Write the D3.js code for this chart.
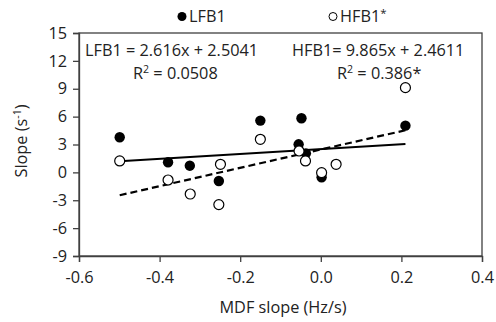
<!DOCTYPE html>
<html><head><meta charset="utf-8">
<script src="https://cdn.jsdelivr.net/npm/d3@7"></script>
<style>body{margin:0;background:#fff}svg{display:block}text{font-family:"Open Sans",sans-serif;fill:#222}</style>
</head><body><svg id="c" width="496" height="322"></svg>
<script>
const lfbX = [-0.499,-0.379,-0.325,-0.253,-0.150,-0.048,-0.055,-0.037,0.002,0.210];
const lfbY = [3.78,1.09,0.72,-0.93,5.57,5.82,3.02,2.05,-0.53,5.03];
const hfbX = [-0.499,-0.379,-0.324,-0.249,-0.253,-0.150,-0.054,-0.038,0.002,0.038,0.210];
const hfbY = [1.23,-0.82,-2.33,0.87,-3.47,3.56,2.30,1.23,-0.03,0.87,9.12];
const xTicks = [-0.6,-0.4,-0.2,0.0,0.2,0.4];
const yTicks = [15,12,9,6,3,0,-3,-6,-9];
const lfbFit = {slope:2.616, intercept:2.5041, x0:-0.499, x1:0.210};
const hfbFit = {slope:9.865, intercept:2.4611, x0:-0.499, x1:0.210};

const svg = d3.select("#c");
const L=79,R=482,T=33,B=256;
const x = d3.scaleLinear().domain([-0.6,0.4]).range([L,R]);
const y = d3.scaleLinear().domain([-9,15]).range([B,T]);

svg.append("rect").attr("x",L).attr("y",T).attr("width",R-L).attr("height",B-T)
  .attr("fill","none").attr("stroke","#404040").attr("stroke-width",1.3);

const fs = 16.3;
const yAx = svg.append("g").attr("transform",`translate(${L},0)`)
  .call(d3.axisLeft(y).tickValues(yTicks).tickSize(6).tickPadding(6).tickFormat(d3.format("d")));
const xAx = svg.append("g").attr("transform",`translate(0,${B})`)
  .call(d3.axisBottom(x).tickValues(xTicks).tickSize(6).tickPadding(9).tickFormat(d3.format(".1f")));
[yAx,xAx].forEach(g=>{
  g.select(".domain").attr("stroke","#404040").attr("stroke-width",1.3);
  g.selectAll(".tick line").attr("stroke","#404040").attr("stroke-width",1.3);
  g.selectAll("text").attr("font-family","Open Sans").attr("font-size",fs).attr("fill","#222");
});
xAx.selectAll(".tick text").text(d=>d3.format(".1f")(d).replace("−","-"));
yAx.selectAll(".tick text").text(d=>String(d));

function fitLine(f,dash){
  const pts=[f.x0,f.x1].map(v=>[x(v),y(f.intercept+f.slope*v)]);
  svg.append("line").attr("x1",pts[0][0]).attr("y1",pts[0][1]).attr("x2",pts[1][0]).attr("y2",pts[1][1])
    .attr("stroke","#000").attr("stroke-width",2.2).attr("stroke-dasharray",dash||null);
}
fitLine(lfbFit,null);
fitLine(hfbFit,"7,4");

svg.append("g").selectAll("circle").data(lfbX.map((v,i)=>[v,lfbY[i]])).join("circle")
  .attr("cx",d=>x(d[0])).attr("cy",d=>y(d[1])).attr("r",5.2).attr("fill","#000");
svg.append("g").selectAll("circle").data(hfbX.map((v,i)=>[v,hfbY[i]])).join("circle")
  .attr("cx",d=>x(d[0])).attr("cy",d=>y(d[1])).attr("r",5).attr("fill","#fff").attr("stroke","#000").attr("stroke-width",1.2);

function eq(xp,yp,main){
  svg.append("text").attr("x",xp).attr("y",yp).attr("font-size",fs).text(main);
}
eq(85,56,"LFB1 = 2.616x + 2.5041");
eq(292,56,"HFB1= 9.865x + 2.4611");
function r2(xp,yp,val){
  const t=svg.append("text").attr("x",xp).attr("y",yp).attr("font-size",fs);
  t.append("tspan").text("R");
  t.append("tspan").attr("font-size",fs*0.65).attr("dy",-6).text("2");
  t.append("tspan").attr("dy",6).text(" = "+val);
}
r2(133,79,"0.0508");
r2(337,79,"0.386*");

svg.append("circle").attr("cx",182).attr("cy",16.5).attr("r",4.5).attr("fill","#000");
svg.append("text").attr("x",189).attr("y",22).attr("font-size",fs).text("LFB1");
svg.append("circle").attr("cx",333).attr("cy",16.5).attr("r",4).attr("fill","#fff").attr("stroke","#000").attr("stroke-width",1);
const h=svg.append("text").attr("x",340).attr("y",22).attr("font-size",fs);
h.append("tspan").text("HFB1");
h.append("tspan").attr("font-size",fs*0.7).attr("dy",-5).text("*");

svg.append("text").attr("x",283).attr("y",313).attr("text-anchor","middle").attr("font-size",fs).text("MDF slope (Hz/s)");
const yt=svg.append("text").attr("transform","translate(27,141) rotate(-90)").attr("text-anchor","middle").attr("font-size",fs);
yt.append("tspan").text("Slope (s");
yt.append("tspan").attr("font-size",fs*0.65).attr("dy",-6).text("-1");
yt.append("tspan").attr("dy",6).text(")");
</script></body></html>
